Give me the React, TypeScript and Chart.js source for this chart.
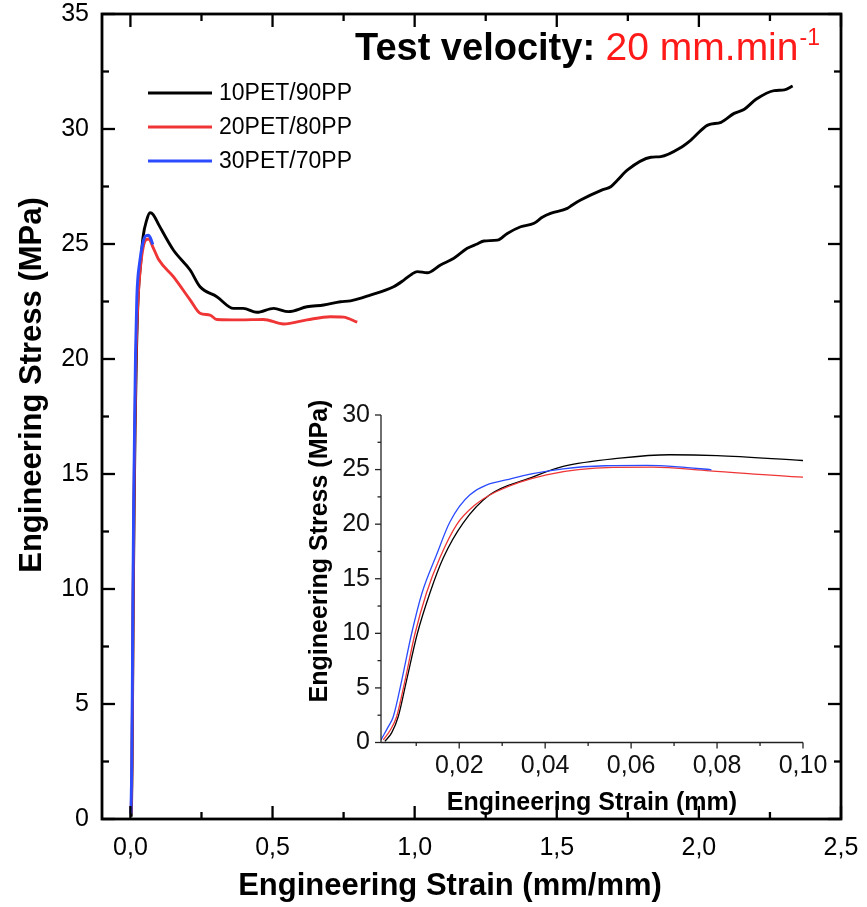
import React, { useEffect, useRef } from 'react';
import { Chart, registerables } from 'chart.js';

Chart.register(...registerables);

// ---------------- data ----------------
const SERIES_NAMES = ['10PET/90PP', '20PET/80PP', '30PET/70PP'];
const SERIES_COLORS = ['#000000', '#ef3535', '#2b4bff'];

const STRAIN_10 = [0.0027, 0.0043, 0.0058, 0.00775, 0.01023, 0.01318, 0.01628, 0.0209, 0.0271, 0.0364, 0.0442, 0.0574, 0.069, 0.08, 0.0999, 0.151, 0.21, 0.245, 0.304, 0.363, 0.397, 0.445, 0.504, 0.556, 0.621, 0.68, 0.739, 0.774, 0.844, 0.926, 0.962, 0.991, 1.009, 1.044, 1.091, 1.138, 1.185, 1.22, 1.244, 1.291, 1.326, 1.373, 1.42, 1.449, 1.478, 1.537, 1.555, 1.584, 1.66, 1.69, 1.714, 1.749, 1.831, 1.866, 1.937, 1.972, 2.031, 2.078, 2.124, 2.16, 2.201, 2.265, 2.301, 2.33];
const STRESS_10 = [0.1, 0.9, 2.36, 5.7, 9.94, 13.7, 16.9, 20.1, 22.69, 24.22, 25.29, 26.05, 26.36, 26.28, 25.83, 24.74, 23.87, 23.14, 22.71, 22.2, 22.2, 22.03, 22.2, 22.06, 22.27, 22.35, 22.49, 22.53, 22.78, 23.14, 23.43, 23.7, 23.8, 23.75, 24.09, 24.38, 24.81, 25.0, 25.13, 25.17, 25.46, 25.75, 25.9, 26.16, 26.33, 26.55, 26.7, 26.91, 27.35, 27.49, 27.78, 28.22, 28.77, 28.8, 29.2, 29.52, 30.17, 30.29, 30.68, 30.86, 31.29, 31.67, 31.7, 31.87];

const STRAIN_20 = [0.00233, 0.0039, 0.00543, 0.0074, 0.00969, 0.01238, 0.01548, 0.01938, 0.0235, 0.0287, 0.0403, 0.0558, 0.065, 0.0783, 0.0999, 0.151, 0.21, 0.245, 0.28, 0.304, 0.386, 0.468, 0.539, 0.621, 0.703, 0.75, 0.798];
const STRESS_20 = [0.24, 1.1, 2.36, 5.7, 9.94, 13.7, 16.9, 19.94, 21.7, 22.99, 24.52, 25.2, 25.22, 24.89, 24.31, 23.58, 22.57, 21.99, 21.91, 21.72, 21.7, 21.72, 21.52, 21.7, 21.84, 21.82, 21.6];

const STRAIN_30 = [0.0018, 0.0035, 0.00465, 0.00663, 0.0089, 0.01134, 0.01473, 0.01783, 0.0225, 0.0326, 0.0442, 0.054, 0.0636, 0.071, 0.0787];
const STRESS_30 = [0.24, 1.45, 2.36, 5.7, 9.94, 13.7, 17.2, 20.2, 22.69, 24.22, 25.07, 25.35, 25.38, 25.25, 24.98];

const MAIN_X_TICKS = [0, 0.5, 1.0, 1.5, 2.0, 2.5];
const MAIN_X_MINOR = [0.25, 0.75, 1.25, 1.75, 2.25];
const MAIN_Y_TICKS = [0, 5, 10, 15, 20, 25, 30, 35];
const MAIN_Y_MINOR = [2.5, 7.5, 12.5, 17.5, 22.5, 27.5, 32.5];
const INSET_X_TICKS = [0.02, 0.04, 0.06, 0.08, 0.1];
const INSET_X_MINOR = [0.01, 0.03, 0.05, 0.07, 0.09];
const INSET_Y_TICKS = [0, 5, 10, 15, 20, 25, 30];
const INSET_Y_MINOR = [2.5, 7.5, 12.5, 17.5, 22.5, 27.5];

const MAIN_X_TITLE = 'Engineering Strain (mm/mm)';
const MAIN_Y_TITLE = 'Engineering Stress (MPa)';
const INSET_X_TITLE = 'Engineering Strain (mm)';
const INSET_Y_TITLE = 'Engineering Stress (MPa)';
const TITLE_BOLD = 'Test velocity: ';
const TITLE_RED = '20 mm.min';
const TITLE_SUP = '-1';

// ---------------- helpers ----------------
const FAMILY = '"Liberation Sans", Arial, Helvetica, sans-serif';
const SERIES = [
  { xs: STRAIN_10, ys: STRESS_10 },
  { xs: STRAIN_20, ys: STRESS_20 },
  { xs: STRAIN_30, ys: STRESS_30 },
];

function makeDatasets(width: number) {
  return SERIES.map((s, i) => ({
    label: SERIES_NAMES[i],
    data: s.xs.map((x, j) => ({ x, y: s.ys[j] })),
    borderColor: SERIES_COLORS[i],
    backgroundColor: SERIES_COLORS[i],
    borderWidth: width,
    pointRadius: 0,
    fill: false,
    cubicInterpolationMode: 'monotone' as const,
    order: 3 - i,
  }));
}

const commaFmt = (digits: number) => (v: any) => Number(v).toFixed(digits).replace('.', ',');

function line(ctx: CanvasRenderingContext2D, x1: number, y1: number, x2: number, y2: number) {
  ctx.beginPath();
  ctx.moveTo(x1, y1);
  ctx.lineTo(x2, y2);
  ctx.stroke();
}

const mainDecor = {
  id: 'mainDecor',
  afterDraw(chart: any) {
    const { ctx, chartArea: a, scales } = chart;
    const xs = scales.x;
    const ys = scales.y;
    ctx.save();
    ctx.strokeStyle = '#000';
    ctx.lineWidth = 2.8;
    ctx.strokeRect(a.left, a.top, a.right - a.left, a.bottom - a.top);
    ctx.lineWidth = 2.3;
    const MAJ = 13;
    const MIN = 7;
    MAIN_X_TICKS.forEach((v) => {
      const p = xs.getPixelForValue(v);
      line(ctx, p, a.bottom, p, a.bottom - MAJ);
      line(ctx, p, a.top, p, a.top + MAJ);
    });
    MAIN_X_MINOR.forEach((v) => {
      const p = xs.getPixelForValue(v);
      line(ctx, p, a.bottom, p, a.bottom - MIN);
      line(ctx, p, a.top, p, a.top + MIN);
    });
    MAIN_Y_TICKS.forEach((v) => {
      const p = ys.getPixelForValue(v);
      line(ctx, a.left, p, a.left + MAJ, p);
      line(ctx, a.right, p, a.right - MAJ, p);
    });
    MAIN_Y_MINOR.forEach((v) => {
      const p = ys.getPixelForValue(v);
      line(ctx, a.left, p, a.left + MIN, p);
      line(ctx, a.right, p, a.right - MIN, p);
    });

    // axis titles
    ctx.fillStyle = '#000';
    ctx.font = `bold 31px ${FAMILY}`;
    ctx.textAlign = 'center';
    ctx.textBaseline = 'middle';
    ctx.fillText(MAIN_X_TITLE, 450, 886);
    ctx.save();
    ctx.translate(32, 385);
    ctx.rotate(-Math.PI / 2);
    ctx.fillText(MAIN_Y_TITLE, 0, 0);
    ctx.restore();

    // legend
    ctx.textAlign = 'left';
    ctx.font = `23px ${FAMILY}`;
    SERIES_NAMES.forEach((name, i) => {
      const y = 93 + i * 34;
      ctx.strokeStyle = SERIES_COLORS[i];
      ctx.lineWidth = 2.8;
      line(ctx, 148, y, 212, y);
      ctx.fillStyle = '#000';
      ctx.fillText(name, 219, y + 1);
    });

    // header text
    ctx.textBaseline = 'alphabetic';
    let x = 355;
    const base = 60;
    ctx.font = `bold 38px ${FAMILY}`;
    ctx.fillStyle = '#000';
    ctx.fillText(TITLE_BOLD, x, base);
    x += ctx.measureText(TITLE_BOLD).width;
    ctx.font = `39px ${FAMILY}`;
    ctx.fillStyle = '#ff1a1a';
    ctx.fillText(TITLE_RED, x, base);
    x += ctx.measureText(TITLE_RED).width + 1;
    ctx.font = `23px ${FAMILY}`;
    ctx.fillText(TITLE_SUP, x, base - 15);
    ctx.restore();
  },
};

const insetDecor = {
  id: 'insetDecor',
  afterDraw(chart: any) {
    const { ctx, chartArea: a, scales } = chart;
    const xs = scales.x;
    const ys = scales.y;
    ctx.save();
    ctx.strokeStyle = '#222';
    ctx.lineWidth = 1.3;
    line(ctx, a.left, a.top, a.left, a.bottom);
    line(ctx, a.left, a.bottom, a.right, a.bottom);
    INSET_X_TICKS.forEach((v) => {
      const p = xs.getPixelForValue(v);
      line(ctx, p, a.bottom, p, a.bottom + 6);
    });
    INSET_X_MINOR.forEach((v) => {
      const p = xs.getPixelForValue(v);
      line(ctx, p, a.bottom, p, a.bottom + 3.5);
    });
    INSET_Y_TICKS.forEach((v) => {
      const p = ys.getPixelForValue(v);
      line(ctx, a.left, p, a.left - 6, p);
    });
    INSET_Y_MINOR.forEach((v) => {
      const p = ys.getPixelForValue(v);
      line(ctx, a.left, p, a.left - 3.5, p);
    });
    ctx.fillStyle = '#000';
    ctx.font = `bold 25px ${FAMILY}`;
    ctx.textAlign = 'center';
    ctx.textBaseline = 'middle';
    ctx.fillText(INSET_X_TITLE, 302, 408);
    ctx.translate(30, 156);
    ctx.rotate(-Math.PI / 2);
    ctx.fillText(INSET_Y_TITLE, 0, 0);
    ctx.restore();
  },
};

export default function App() {
  const mainRef = useRef<HTMLCanvasElement>(null);
  const insetRef = useRef<HTMLCanvasElement>(null);

  useEffect(() => {
    const mainFont = { family: FAMILY, size: 25, lineHeight: 1 };
    const insetFont = { family: FAMILY, size: 25, lineHeight: 1 };
    const main = new Chart(mainRef.current as HTMLCanvasElement, {
      type: 'line',
      data: { datasets: makeDatasets(2.9) as any },
      options: {
        animation: false,
        responsive: false,
        maintainAspectRatio: false,
        devicePixelRatio: 1,
        layout: { padding: { left: 0, right: 26, top: 14, bottom: 0 } },
        plugins: { legend: { display: false }, tooltip: { enabled: false } },
        scales: {
          x: {
            type: 'linear',
            min: -0.1,
            max: 2.5,
            afterBuildTicks: (s: any) => {
              s.ticks = MAIN_X_TICKS.map((v) => ({ value: v }));
            },
            afterFit: (s: any) => {
              s.height = 88;
              s.paddingLeft = 0;
              s.paddingRight = 0;
            },
            grid: { display: false, drawTicks: false },
            border: { display: false },
            ticks: { font: mainFont, color: '#000', padding: 17, autoSkip: false, maxRotation: 0, callback: commaFmt(1) },
          },
          y: {
            type: 'linear',
            min: 0,
            max: 35,
            afterBuildTicks: (s: any) => {
              s.ticks = MAIN_Y_TICKS.map((v) => ({ value: v }));
            },
            afterFit: (s: any) => {
              s.width = 102;
              s.paddingTop = 0;
              s.paddingBottom = 0;
            },
            grid: { display: false, drawTicks: false },
            border: { display: false },
            ticks: { font: mainFont, color: '#000', padding: 13, autoSkip: false, callback: (v: any) => String(v) },
          },
        },
      } as any,
      plugins: [mainDecor],
    });

    const inset = new Chart(insetRef.current as HTMLCanvasElement, {
      type: 'line',
      data: { datasets: makeDatasets(1.3) as any },
      options: {
        animation: false,
        responsive: false,
        maintainAspectRatio: false,
        devicePixelRatio: 1,
        layout: { padding: { left: 0, right: 32, top: 20, bottom: 0 } },
        plugins: { legend: { display: false }, tooltip: { enabled: false } },
        scales: {
          x: {
            type: 'linear',
            min: 0.0018,
            max: 0.1,
            afterBuildTicks: (s: any) => {
              s.ticks = INSET_X_TICKS.map((v) => ({ value: v }));
            },
            afterFit: (s: any) => {
              s.height = 92.5;
              s.paddingLeft = 0;
              s.paddingRight = 0;
            },
            grid: { display: false, drawTicks: false },
            border: { display: false },
            ticks: { font: insetFont, color: '#111', padding: 11, autoSkip: false, maxRotation: 0, callback: commaFmt(2) },
          },
          y: {
            type: 'linear',
            min: 0,
            max: 30,
            afterBuildTicks: (s: any) => {
              s.ticks = INSET_Y_TICKS.map((v) => ({ value: v }));
            },
            afterFit: (s: any) => {
              s.width = 91;
              s.paddingTop = 0;
              s.paddingBottom = 0;
            },
            grid: { display: false, drawTicks: false },
            border: { display: false },
            ticks: { font: insetFont, color: '#111', padding: 11, autoSkip: false, callback: (v: any) => String(v) },
          },
        },
      } as any,
      plugins: [insetDecor],
    });

    return () => {
      main.destroy();
      inset.destroy();
    };
  }, []);

  return (
    <div style={{ position: 'absolute', left: 0, top: 0, width: 867, height: 907, background: '#fff' }}>
      <canvas
        ref={mainRef}
        width={867}
        height={907}
        style={{ position: 'absolute', left: 0, top: 0, width: 867, height: 907 }}
      />
      <canvas
        ref={insetRef}
        width={545}
        height={440}
        style={{ position: 'absolute', left: 290, top: 395, width: 545, height: 440 }}
      />
    </div>
  );
}
